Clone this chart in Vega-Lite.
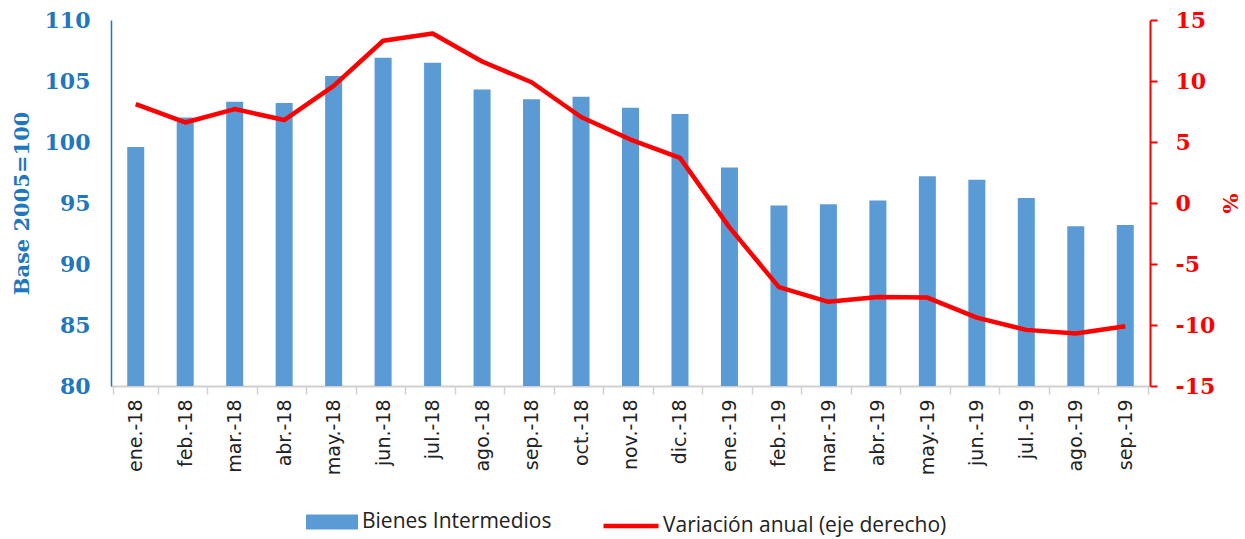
{
  "$schema": "https://vega.github.io/schema/vega-lite/v6.json",
  "width": 1039,
  "height": 366,
  "autosize": {"type": "none"},
  "padding": {"left": 111, "top": 20, "right": 95, "bottom": 153},
  "background": "white",
  "config": {"view": {"stroke": null}},
  "data": {"values": [
    {"mes": "ene.-18", "indice": 99.6, "var": 8.1},
    {"mes": "feb.-18", "indice": 102.0, "var": 6.6},
    {"mes": "mar.-18", "indice": 103.3, "var": 7.7},
    {"mes": "abr.-18", "indice": 103.2, "var": 6.8},
    {"mes": "may.-18", "indice": 105.4, "var": 9.6},
    {"mes": "jun.-18", "indice": 106.9, "var": 13.3},
    {"mes": "jul.-18", "indice": 106.5, "var": 13.9},
    {"mes": "ago.-18", "indice": 104.3, "var": 11.6},
    {"mes": "sep.-18", "indice": 103.5, "var": 9.9},
    {"mes": "oct.-18", "indice": 103.7, "var": 7.05},
    {"mes": "nov.-18", "indice": 102.8, "var": 5.2},
    {"mes": "dic.-18", "indice": 102.3, "var": 3.7},
    {"mes": "ene.-19", "indice": 97.9, "var": -2.0},
    {"mes": "feb.-19", "indice": 94.8, "var": -6.9},
    {"mes": "mar.-19", "indice": 94.9, "var": -8.1},
    {"mes": "abr.-19", "indice": 95.2, "var": -7.7},
    {"mes": "may.-19", "indice": 97.2, "var": -7.75},
    {"mes": "jun.-19", "indice": 96.9, "var": -9.4},
    {"mes": "jul.-19", "indice": 95.4, "var": -10.4},
    {"mes": "ago.-19", "indice": 93.1, "var": -10.7},
    {"mes": "sep.-19", "indice": 93.2, "var": -10.1}
  ]},
  "layer": [
    {
      "mark": {"type": "bar", "width": 17, "clip": true},
      "encoding": {
        "x": {
          "field": "mes", "type": "ordinal", "sort": null,
          "axis": {
            "title": null, "labelAngle": -90, "labelFont": "DejaVu Sans", "labelFontSize": 19,
            "labelColor": "#222222", "labelPadding": 5,
            "domainColor": "#d0d0d0", "domainWidth": 2, "tickColor": "#d0d0d0", "tickWidth": 1.5,
            "tickSize": 8, "tickBand": "extent", "grid": false
          }
        },
        "y": {
          "field": "indice", "type": "quantitative",
          "scale": {"domain": [80, 110], "zero": false, "nice": false},
          "axis": {
            "values": [80, 85, 90, 95, 100, 105, 110], "grid": false, "ticks": false,
            "domainColor": "#1F77C0", "domainWidth": 1.5,
            "labelColor": "#1F77C0", "labelFont": "DejaVu Serif", "labelFontWeight": "bold",
            "labelFontSize": 22, "labelPadding": 21,
            "title": "Base 2005=100", "titleColor": "#1F77C0", "titleFont": "DejaVu Serif",
            "titleFontWeight": "bold", "titleFontSize": 21, "titlePadding": 12
          }
        },
        "fill": {
          "datum": "Bienes Intermedios",
          "scale": {"range": ["#5B9BD5"]},
          "legend": {
            "title": null, "orient": "none", "legendX": 195, "legendY": 476,
            "symbolType": "M-1,-0.29H1V0.29H-1Z", "symbolSize": 2704, "symbolStrokeWidth": 0,
            "labelFont": "Open Sans", "labelFontSize": 21, "labelColor": "#222222", "labelOffset": 4,
            "labelLimit": 500
          }
        }
      }
    },
    {
      "mark": {"type": "line", "strokeWidth": 4.5, "strokeJoin": "round"},
      "encoding": {
        "x": {"field": "mes", "type": "ordinal", "sort": null},
        "y": {
          "field": "var", "type": "quantitative",
          "scale": {"domain": [-15, 15], "nice": false},
          "axis": {
            "orient": "right", "values": [-15, -10, -5, 0, 5, 10, 15], "grid": false,
            "labelExpr": "'' + datum.value",
            "domainColor": "red", "domainWidth": 2, "tickColor": "red", "tickWidth": 2, "tickSize": 7,
            "labelColor": "red", "labelFont": "DejaVu Serif", "labelFontWeight": "bold",
            "labelFontSize": 22, "labelPadding": 18,
            "title": "%", "titleColor": "red", "titleFont": "DejaVu Serif",
            "titleFontWeight": "bold", "titleFontSize": 21, "titlePadding": 4
          }
        },
        "stroke": {
          "datum": "Variación anual (eje derecho)",
          "scale": {"range": ["#FF0000"]},
          "legend": {
            "title": null, "orient": "none", "legendX": 490, "legendY": 476,
            "symbolType": "stroke", "symbolSize": 3025, "symbolStrokeWidth": 4.5,
            "labelFont": "Open Sans", "labelFontSize": 21, "labelColor": "#222222", "labelOffset": 2,
            "labelLimit": 500
          }
        }
      }
    }
  ],
  "resolve": {"scale": {"y": "independent"}}
}
